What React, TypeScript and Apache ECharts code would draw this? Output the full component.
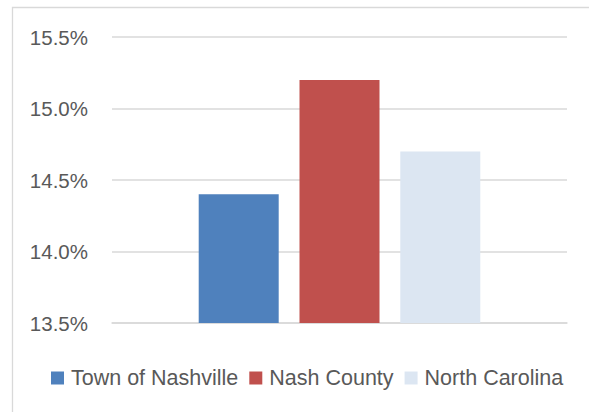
import React, { useEffect, useRef } from "react";
import * as echarts from "echarts";

const seriesNames = ["Town of Nashville", "Nash County", "North Carolina"];
const seriesValues = [14.4, 15.2, 14.7];
const seriesColors = ["#4F81BD", "#C0504D", "#DCE6F2"];
const categories = [""];
const yMin = 13.5;
const yMax = 15.5;
const yInterval = 0.5;

const FONT = "'Liberation Sans', Arial, sans-serif";
const TEXT = "#595959";

export default function App() {
  const ref = useRef<HTMLDivElement>(null);
  useEffect(() => {
    if (!ref.current) return;
    const chart = echarts.init(ref.current, undefined, { renderer: "svg" });
    chart.setOption({
      animation: false,
      backgroundColor: "#ffffff",
      textStyle: { fontFamily: FONT },
      graphic: [
        {
          type: "rect",
          shape: { x: 12.5, y: 7.5, width: 700, height: 600 },
          style: { fill: "none", stroke: "#d9d9d9", lineWidth: 1.3 },
          silent: true,
          z: -1,
        },
      ],
      grid: { left: 112, right: 22, top: 37, bottom: 89, containLabel: false },
      legend: {
        data: seriesNames,
        bottom: undefined,
        top: 367,
        left: 51,
        padding: 0,
        itemWidth: 13,
        itemHeight: 13,
        itemGap: 11,
        icon: "rect",
        textStyle: {
          fontFamily: FONT,
          fontSize: 21.5,
          color: TEXT,
          padding: [0, 0, 0, 2],
          lineHeight: 22,
        },
      },
      xAxis: {
        type: "category",
        data: categories,
        axisLine: { show: true, lineStyle: { color: "#d9d9d9", width: 1.5 } },
        axisTick: { show: false },
        axisLabel: { show: false },
      },
      yAxis: {
        type: "value",
        min: yMin,
        max: yMax,
        interval: yInterval,
        axisLine: { show: false },
        axisTick: { show: false },
        splitLine: { lineStyle: { color: "#d9d9d9", width: 1.5 } },
        axisLabel: {
          fontFamily: FONT,
          fontSize: 20.5,
          color: TEXT,
          margin: 24,
          formatter: (v: number) => v.toFixed(1) + "%",
        },
      },
      series: seriesNames.map((name, i) => ({
        name,
        type: "bar",
        data: [seriesValues[i]],
        barWidth: 80,
        barGap: "26%",
        itemStyle: { color: seriesColors[i] },
      })),
    });
    return () => chart.dispose();
  }, []);
  return (
    <div
      ref={ref}
      style={{ position: "absolute", left: 0, top: 0, width: 589, height: 412 }}
    />
  );
}
